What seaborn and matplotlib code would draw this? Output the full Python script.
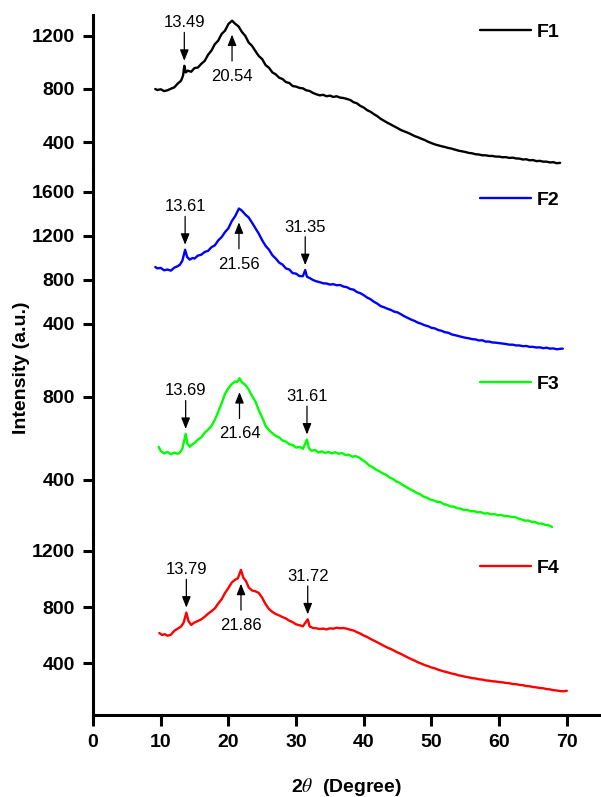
import numpy as np
import pandas as pd
import matplotlib
matplotlib.use("Agg")
import matplotlib.pyplot as plt
import seaborn as sns

# ---- XRD patterns (2theta in degrees, intensity in a.u.) ----
f1_x = [9.2, 9.5, 10.0, 10.5, 11.0, 11.5, 12.0, 12.5, 13.0, 13.3, 13.49, 13.7, 14.0, 14.5,
        15.0, 15.5, 16.0, 16.5, 17.0, 17.5, 18.0, 18.5, 19.0, 19.5, 20.0, 20.54, 21.0, 21.5,
        22.0, 22.5, 23.0, 23.5, 24.0, 24.5, 25.0, 25.5, 26.0, 26.5, 27.0, 27.5, 28.0, 28.5,
        29.0, 29.5, 30.0, 30.5, 31.0, 31.5, 32.0, 32.5, 33.0, 33.5, 34.0, 34.5, 35.0, 35.5,
        36.0, 36.5, 37.0, 37.5, 38.0, 38.5, 39.0, 39.5, 40.0, 40.5, 41.0, 41.5, 42.0, 42.5,
        43.0, 43.5, 44.0, 44.5, 45.0, 45.5, 46.0, 46.5, 47.0, 47.5, 48.0, 48.5, 49.0, 49.5,
        50.0, 50.5, 51.0, 51.5, 52.0, 52.5, 53.0, 53.5, 54.0, 54.5, 55.0, 55.5, 56.0, 56.5,
        57.0, 57.5, 58.0, 58.5, 59.0, 59.5, 60.0, 60.5, 61.0, 61.5, 62.0, 62.5, 63.0, 63.5,
        64.0, 64.5, 65.0, 65.5, 66.0, 66.5, 67.0, 67.5, 68.0, 68.5, 69.0]
f1_y = [800, 792, 798, 784, 790, 802, 812, 840, 862, 900, 975, 925, 938, 930,
        958, 962, 990, 1012, 1058, 1090, 1138, 1165, 1215, 1240, 1290, 1315, 1292, 1272,
        1230, 1200, 1150, 1125, 1085, 1048, 1025, 980, 960, 925, 910, 885, 875, 852,
        845, 822, 818, 808, 805, 790, 785, 770, 760, 752, 756, 745, 750, 740,
        745, 735, 732, 725, 717, 700, 692, 672, 660, 640, 628, 610, 595, 575,
        560, 545, 532, 518, 505, 490, 480, 470, 458, 445, 436, 425, 415, 402,
        392, 382, 375, 368, 362, 355, 350, 342, 335, 330, 325, 318, 315, 308,
        306, 300, 300, 295, 295, 290, 290, 285, 286, 280, 282, 276, 275, 268,
        270, 262, 264, 256, 258, 252, 252, 246, 248, 240, 243]

f2_x = [9.2, 9.5, 10.0, 10.5, 11.0, 11.5, 12.0, 12.5, 12.85, 13.2, 13.61, 13.9, 14.3, 14.7,
        15.0, 15.5, 16.0, 16.5, 17.0, 17.5, 18.0, 18.5, 19.0, 19.5, 20.0, 20.5, 21.0, 21.56,
        22.0, 22.5, 23.0, 23.5, 24.0, 24.5, 25.0, 25.5, 26.0, 26.5, 27.0, 27.5, 28.0, 28.5,
        29.0, 29.5, 30.0, 30.5, 31.0, 31.35, 31.6, 32.0, 32.5, 33.0, 33.5, 34.0, 34.5, 35.0,
        35.5, 36.0, 36.5, 37.0, 37.5, 38.0, 38.5, 39.0, 39.5, 40.0, 40.5, 41.0, 41.5, 42.0,
        42.5, 43.0, 43.5, 44.0, 44.5, 45.0, 45.5, 46.0, 46.5, 47.0, 47.5, 48.0, 48.5, 49.0,
        49.5, 50.0, 50.5, 51.0, 51.5, 52.0, 52.5, 53.0, 53.5, 54.0, 54.5, 55.0, 55.5, 56.0,
        56.5, 57.0, 57.5, 58.0, 58.5, 59.0, 59.5, 60.0, 60.5, 61.0, 61.5, 62.0, 62.5, 63.0,
        63.5, 64.0, 64.5, 65.0, 65.5, 66.0, 66.5, 67.0, 67.5, 68.0, 68.5, 69.0, 69.4]
f2_y = [918, 905, 910, 888, 895, 885, 912, 925, 940, 975, 1075, 1010, 985, 1000,
        995, 1022, 1030, 1055, 1065, 1098, 1115, 1160, 1190, 1235, 1270, 1335, 1380, 1450,
        1430, 1395, 1368, 1320, 1270, 1220, 1160, 1110, 1075, 1025, 995, 958, 940, 905,
        895, 862, 858, 835, 835, 890, 830, 818, 800, 788, 780, 770, 768, 758,
        762, 752, 755, 740, 735, 718, 712, 690, 680, 662, 640, 625, 602, 585,
        562, 552, 538, 528, 512, 505, 488, 470, 455, 440, 428, 412, 402, 388,
        380, 365, 360, 345, 338, 325, 320, 305, 298, 290, 282, 275, 270, 262,
        260, 250, 252, 240, 240, 232, 230, 226, 222, 218, 212, 212, 205, 205,
        198, 200, 192, 192, 186, 188, 180, 184, 176, 178, 170, 174, 176]

f3_x = [9.7, 10.0, 10.5, 11.0, 11.5, 12.0, 12.5, 12.85, 13.2, 13.69, 13.95, 14.3, 14.7, 15.0,
        15.5, 16.0, 16.5, 17.0, 17.5, 18.0, 18.5, 19.0, 19.5, 20.0, 20.5, 21.0, 21.3, 21.64,
        22.0, 22.5, 23.0, 23.5, 24.0, 24.5, 25.0, 25.5, 26.0, 26.5, 27.0, 27.5, 28.0, 28.5,
        29.0, 29.5, 30.0, 30.5, 31.0, 31.61, 31.9, 32.3, 32.8, 33.3, 33.8, 34.3, 34.8, 35.3,
        35.8, 36.3, 36.8, 37.3, 37.8, 38.3, 38.8, 39.3, 39.8, 40.3, 40.8, 41.3, 41.8, 42.3,
        42.8, 43.3, 43.8, 44.3, 44.8, 45.3, 45.8, 46.3, 46.8, 47.3, 47.8, 48.3, 48.8, 49.3,
        49.8, 50.3, 50.8, 51.3, 51.8, 52.3, 52.8, 53.3, 53.8, 54.3, 54.8, 55.3, 55.8, 56.3,
        56.8, 57.3, 57.8, 58.3, 58.8, 59.3, 59.8, 60.3, 60.8, 61.3, 61.8, 62.3, 62.8, 63.3,
        63.8, 64.3, 64.8, 65.3, 65.8, 66.3, 66.8, 67.3, 67.8]
f3_y = [560, 540, 528, 535, 524, 532, 526, 532, 550, 622, 575, 560, 572, 578,
        595, 605, 628, 642, 660, 690, 728, 770, 815, 842, 862, 875, 872, 890,
        870, 858, 835, 805, 778, 735, 700, 660, 640, 625, 612, 605, 590, 585,
        572, 568, 556, 560, 550, 595, 552, 540, 545, 532, 538, 530, 535, 528,
        534, 526, 530, 520, 522, 512, 515, 508, 496, 485, 470, 462, 450, 442,
        432, 425, 412, 405, 393, 386, 375, 366, 356, 348, 338, 332, 320, 315,
        306, 302, 295, 294, 284, 280, 272, 272, 264, 262, 255, 256, 249, 250,
        244, 245, 238, 240, 234, 236, 230, 232, 226, 226, 222, 222, 215, 210,
        204, 205, 198, 198, 190, 190, 184, 182, 174]

f4_x = [9.8, 10.2, 10.6, 11.0, 11.5, 12.0, 12.5, 13.0, 13.4, 13.79, 14.1, 14.5, 15.0, 15.5,
        16.0, 16.5, 17.0, 17.5, 18.0, 18.5, 19.0, 19.5, 20.0, 20.5, 21.0, 21.4, 21.86, 22.2,
        22.6, 23.0, 23.5, 24.0, 24.5, 25.0, 25.5, 26.0, 26.5, 27.0, 27.5, 28.0, 28.5, 29.0,
        29.5, 30.0, 30.5, 31.0, 31.72, 32.0, 32.5, 33.0, 33.5, 34.0, 34.5, 35.0, 35.5, 36.0,
        36.5, 37.0, 37.5, 38.0, 38.5, 39.0, 39.5, 40.0, 40.5, 41.0, 41.5, 42.0, 42.5, 43.0,
        43.5, 44.0, 44.5, 45.0, 45.5, 46.0, 46.5, 47.0, 47.5, 48.0, 48.5, 49.0, 49.5, 50.0,
        50.5, 51.0, 51.5, 52.0, 52.5, 53.0, 53.5, 54.0, 54.5, 55.0, 55.5, 56.0, 56.5, 57.0,
        57.5, 58.0, 58.5, 59.0, 59.5, 60.0, 60.5, 61.0, 61.5, 62.0, 62.5, 63.0, 63.5, 64.0,
        64.5, 65.0, 65.5, 66.0, 66.5, 67.0, 67.5, 68.0, 68.5, 69.0, 69.5, 70.0]
f4_y = [614, 600, 606, 595, 602, 630, 645, 660, 690, 760, 700, 672, 690, 700,
        712, 730, 752, 770, 790, 825, 855, 900, 935, 975, 995, 1005, 1065, 1010,
        985, 940, 918, 912, 900, 865, 820, 785, 765, 750, 740, 728, 718, 702,
        692, 676, 670, 662, 712, 662, 650, 648, 643, 646, 640, 648, 645, 652,
        648, 650, 645, 638, 632, 620, 610, 596, 586, 572, 560, 548, 535, 522,
        510, 500, 488, 475, 465, 452, 440, 428, 418, 405, 396, 385, 378, 368,
        362, 352, 345, 338, 332, 325, 320, 312, 308, 302, 298, 292, 290, 284,
        282, 276, 274, 270, 268, 264, 262, 258, 256, 250, 249, 244, 242, 236,
        234, 229, 226, 222, 220, 214, 212, 206, 204, 200, 198, 202]

names = ["F1", "F2", "F3", "F4"]
colors = ["#000000", "#0000FF", "#00FF00", "#FF0000"]
xs = [f1_x, f2_x, f3_x, f4_x]
ys = [f1_y, f2_y, f3_y, f4_y]

# labelled reflections per pattern: (2theta, arrow direction)
peaks = [
    [(13.49, "down"), (20.54, "up")],
    [(13.61, "down"), (21.56, "up"), (31.35, "down")],
    [(13.69, "down"), (21.64, "up"), (31.61, "down")],
    [(13.79, "down"), (21.86, "up"), (31.72, "down")],
]

yticks = [[400, 800, 1200], [400, 800, 1200, 1600], [400, 800], [400, 800, 1200]]
ylims = [(189, 1358), (118, 1800), (135, 1002), (29, 1314)]
legend_y = [0.890, 0.838, 0.839, 0.817]

sns.set_style("ticks")
plt.rcParams["font.family"] = ["Liberation Sans", "DejaVu Sans"]
plt.rcParams["mathtext.fontset"] = "stix"
for key in ["text.color", "axes.labelcolor", "xtick.color", "ytick.color",
            "axes.edgecolor"]:
    plt.rcParams[key] = "black"

fig = plt.figure(figsize=(6.01, 7.97), dpi=100)
gs = fig.add_gridspec(4, 1, height_ratios=[155, 185, 180, 180], hspace=0,
                      left=93 / 601, right=0.9995, top=1 - 15 / 797, bottom=1 - 715 / 797)
axes = [fig.add_subplot(gs[i]) for i in range(4)]

LW = 2.2
for i, ax in enumerate(axes):
    df = pd.DataFrame({"two_theta": xs[i], "intensity": ys[i]})
    sns.lineplot(data=df, x="two_theta", y="intensity", ax=ax, color=colors[i],
                 lw=1.7, estimator=None, sort=False, label=names[i])
    ax.set_xlim(0, 75)
    ax.set_ylim(*ylims[i])
    ax.set_yticks(yticks[i])
    ax.set_ylabel("")
    ax.set_xlabel("")
    for s in ["top", "right"]:
        ax.spines[s].set_visible(False)
    ax.spines["left"].set_linewidth(LW)
    ax.tick_params(axis="y", direction="out", length=7, width=LW, pad=6,
                   labelsize=14, colors="black")
    for lab in ax.get_yticklabels():
        lab.set_fontweight("bold")
    if i < 3:
        ax.spines["bottom"].set_visible(False)
        ax.tick_params(axis="x", bottom=False, labelbottom=False)
    else:
        ax.spines["bottom"].set_linewidth(LW)
        ax.set_xticks([0, 10, 20, 30, 40, 50, 60, 70])
        ax.tick_params(axis="x", direction="out", length=8, width=LW, pad=6,
                       labelsize=14, colors="black")
        for lab in ax.get_xticklabels():
            lab.set_fontweight("bold")

    leg = ax.legend(loc="center left", bbox_to_anchor=(0.762, legend_y[i]),
                    frameon=False, handlelength=2.65, handletextpad=0.3,
                    borderpad=0, borderaxespad=0, prop={"weight": "bold", "size": 14})
    for h in leg.get_lines():
        h.set_linewidth(1.7)

    # arrows and labels marking reflections
    for pos, direction in peaks[i]:
        val = float(np.interp(pos, xs[i], ys[i]))
        if direction == "down":
            tail, gap, txt = 24, 3.6, 31
        else:
            tail, gap, txt = -29, 10, -40
        ax.annotate("", xy=(pos, val), xytext=(0, tail), textcoords="offset points",
                    arrowprops=dict(arrowstyle="-|>,head_length=0.55,head_width=0.22",
                                    color="black", lw=0.9, shrinkA=0, shrinkB=gap,
                                    mutation_scale=12))
        ax.annotate(f"{pos:.2f}", xy=(pos, val), xytext=(0, txt),
                    textcoords="offset points", ha="center", va="center",
                    fontsize=12, color="black")

fig.text(22 / 601, 1 - 368 / 797, "Intensity (a.u.)", rotation=90, ha="center",
         va="center", fontsize=14, fontweight="bold")
fig.text(347 / 601, 1 - 787 / 797, r"2$\theta$  (Degree)", ha="center", va="center",
         fontsize=14, fontweight="bold")

fig.savefig("out.png", dpi=100)
